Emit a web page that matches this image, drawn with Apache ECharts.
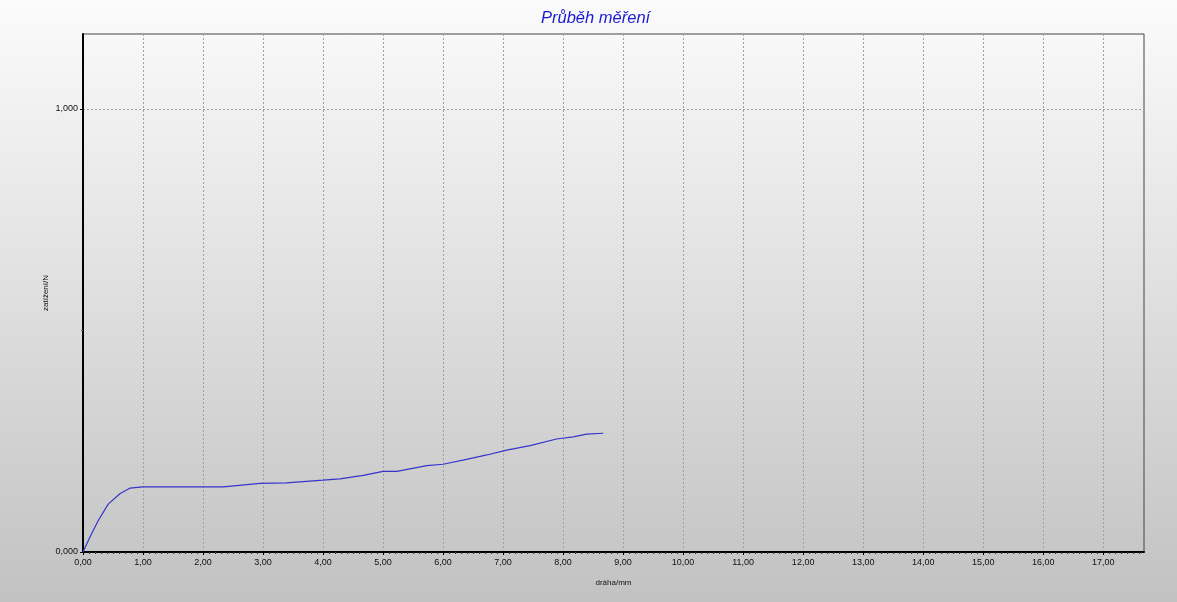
<!DOCTYPE html>
<html>
<head>
<meta charset="utf-8">
<script src="https://cdn.jsdelivr.net/npm/echarts@6/dist/echarts.min.js"></script>
<style>
  html, body { margin: 0; padding: 0; }
  #chart { width: 1177px; height: 602px; }
</style>
</head>
<body>
<div id="chart"></div>
<script>
// Measured travel (mm) and load (N)
const drahaMm = [0, 0.12, 0.25, 0.42, 0.62, 0.78, 1.0, 1.5, 2.0, 2.34, 2.95, 3.39, 4.0, 4.28, 4.67, 5.0, 5.23, 5.73, 6.0, 6.39, 6.73, 7.06, 7.45, 7.89, 8.17, 8.39, 8.67];
const zatizeniN = [0, 0.035, 0.07, 0.108, 0.132, 0.144, 0.147, 0.147, 0.147, 0.147, 0.155, 0.156, 0.162, 0.165, 0.173, 0.182, 0.182, 0.195, 0.198, 0.209, 0.219, 0.230, 0.240, 0.255, 0.260, 0.266, 0.268];

// Tick positions shown on each axis
const xTicks = [0, 1, 2, 3, 4, 5, 6, 7, 8, 9, 10, 11, 12, 13, 14, 15, 16, 17];
const yTicks = [0, 1];

const title = 'Průběh měření';
const xName = 'dráha/mm';
const yName = 'zatížení/N';

const points = drahaMm.map((x, i) => [x, zatizeniN[i]]);

const chart = echarts.init(document.getElementById('chart'), null, { renderer: 'canvas' });
const font = 'Liberation Sans, Arial, sans-serif';
const gridLine = { show: true, lineStyle: { color: '#a0a0a0', type: [2, 2], width: 1 } };

chart.setOption({
  animation: false,
  backgroundColor: new echarts.graphic.LinearGradient(0, 0, 0, 1, [
    { offset: 0, color: '#fbfbfb' },
    { offset: 1, color: '#c2c2c2' }
  ]),
  title: {
    text: title,
    left: 536,
    top: 5,
    textStyle: { color: '#1a1ad4', fontStyle: 'italic', fontWeight: 'normal', fontSize: 16.5, fontFamily: font }
  },
  grid: { left: 83, top: 34, right: 33, bottom: 50, show: true, borderColor: '#444', borderWidth: 1, backgroundColor: 'transparent' },
  xAxis: {
    type: 'value',
    min: 0,
    max: 17.68,
    interval: 1,
    name: xName,
    nameLocation: 'middle',
    nameGap: 27,
    nameMoveOverlap: false,
    nameTextStyle: { fontSize: 8, color: '#111', fontFamily: font },
    axisLine: { show: true, lineStyle: { color: '#000', width: 2 } },
    axisTick: { show: true, length: 3, customValues: xTicks, lineStyle: { color: '#000' } },
    minorTick: { show: true, splitNumber: 10, length: 2, lineStyle: { color: '#333' } },
    axisLabel: {
      fontSize: 9, color: '#111', fontFamily: font, margin: 6,
      customValues: xTicks,
      formatter: v => v.toFixed(2).replace('.', ',')
    },
    splitLine: gridLine
  },
  yAxis: {
    type: 'value',
    min: 0,
    max: 1.169,
    interval: 1,
    name: yName,
    nameLocation: 'middle',
    nameGap: 33,
    nameMoveOverlap: false,
    nameRotate: 90,
    nameTextStyle: { fontSize: 8, color: '#111', fontFamily: font },
    axisLine: { show: true, lineStyle: { color: '#000', width: 2 } },
    axisTick: { show: true, length: 3, customValues: yTicks, lineStyle: { color: '#000' } },
    minorTick: { show: true, splitNumber: 2, length: 2, lineStyle: { color: '#666' } },
    axisLabel: {
      fontSize: 9, color: '#111', fontFamily: font, margin: 5,
      customValues: yTicks,
      formatter: v => v.toFixed(3).replace('.', ',')
    },
    splitLine: gridLine
  },
  series: [{
    type: 'line',
    data: points,
    showSymbol: false,
    smooth: false,
    lineStyle: { color: '#3535cc', width: 1.2 },
    clip: true
  }]
});
</script>
</body>
</html>
